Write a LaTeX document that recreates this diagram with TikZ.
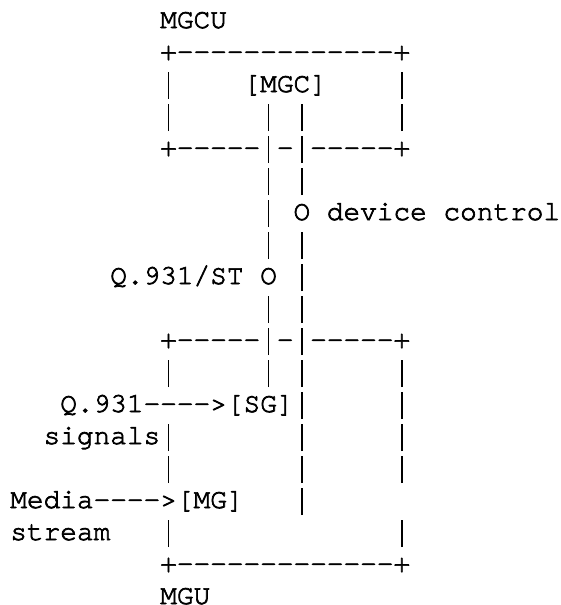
\documentclass[tikz,border=0pt]{standalone}
\usepackage{fontspec}
\setmonofont{texgyrecursor-regular.otf}[FakeBold=2.5]
\tikzset{
  txt/.style={anchor=base west, inner sep=0pt, outer sep=0pt,
    font=\ttfamily\fontsize{27.77pt}{32pt}\selectfont, text=black}
}
% a tall vertical bar, one character cell wide
\newcommand\vb{\makebox[16.66pt][c]{\rule[-7pt]{1.4pt}{27.5pt}}}
\newcommand\seg[4]{\node[txt] (#1) at ({10.3pt+16.66pt*#2},{-28pt-32pt*(#3-1)}) {#4};}
\begin{document}
\begin{tikzpicture}
\useasboundingbox[fill=white] (0,0) rectangle (560pt,-605pt);
% MGCU box
\seg{mgcu}{9}{1}{MGCU}
\seg{r2}{9}{2}{+-------------+}
\seg{r3a}{9}{3}{\vb}
\seg{mgc}{14}{3}{[MGC]}
\seg{r3b}{23}{3}{\vb}
\seg{r4a}{9}{4}{\vb}
\seg{r4b}{15}{4}{\vb}
\seg{r4c}{17}{4}{\vb}
\seg{r4d}{23}{4}{\vb}
\seg{r5}{9}{5}{+-----\vb-\vb-----+}
% links
\seg{r6a}{15}{6}{\vb}
\seg{r6b}{17}{6}{\vb}
\seg{r7a}{15}{7}{\vb}
\seg{devctl}{17}{7}{O device control}
\seg{r8a}{15}{8}{\vb}
\seg{r8b}{17}{8}{\vb}
\seg{q931st}{6}{9}{Q.931/ST O}
\seg{r9b}{17}{9}{\vb}
\seg{r10a}{15}{10}{\vb}
\seg{r10b}{17}{10}{\vb}
% MGU box
\seg{r11}{9}{11}{+-----\vb-\vb-----+}
\seg{r12a}{9}{12}{\vb}
\seg{r12b}{15}{12}{\vb}
\seg{r12c}{17}{12}{\vb}
\seg{r12d}{23}{12}{\vb}
\seg{sg}{3}{13}{Q.931---->[SG]\vb}
\seg{r13b}{23}{13}{\vb}
\seg{signals}{2}{14}{signals\vb}
\seg{r14b}{17}{14}{\vb}
\seg{r14c}{23}{14}{\vb}
\seg{r15a}{9}{15}{\vb}
\seg{r15b}{17}{15}{\vb}
\seg{r15c}{23}{15}{\vb}
\seg{mg}{0}{16}{Media---->[MG]}
\seg{r16b}{17}{16}{\vb}
\seg{stream}{0}{17}{stream}
\seg{r17b}{9}{17}{\vb}
\seg{r17c}{23}{17}{\vb}
\seg{r18}{9}{18}{+-------------+}
\seg{mgu}{9}{19}{MGU}
\end{tikzpicture}
\end{document}
